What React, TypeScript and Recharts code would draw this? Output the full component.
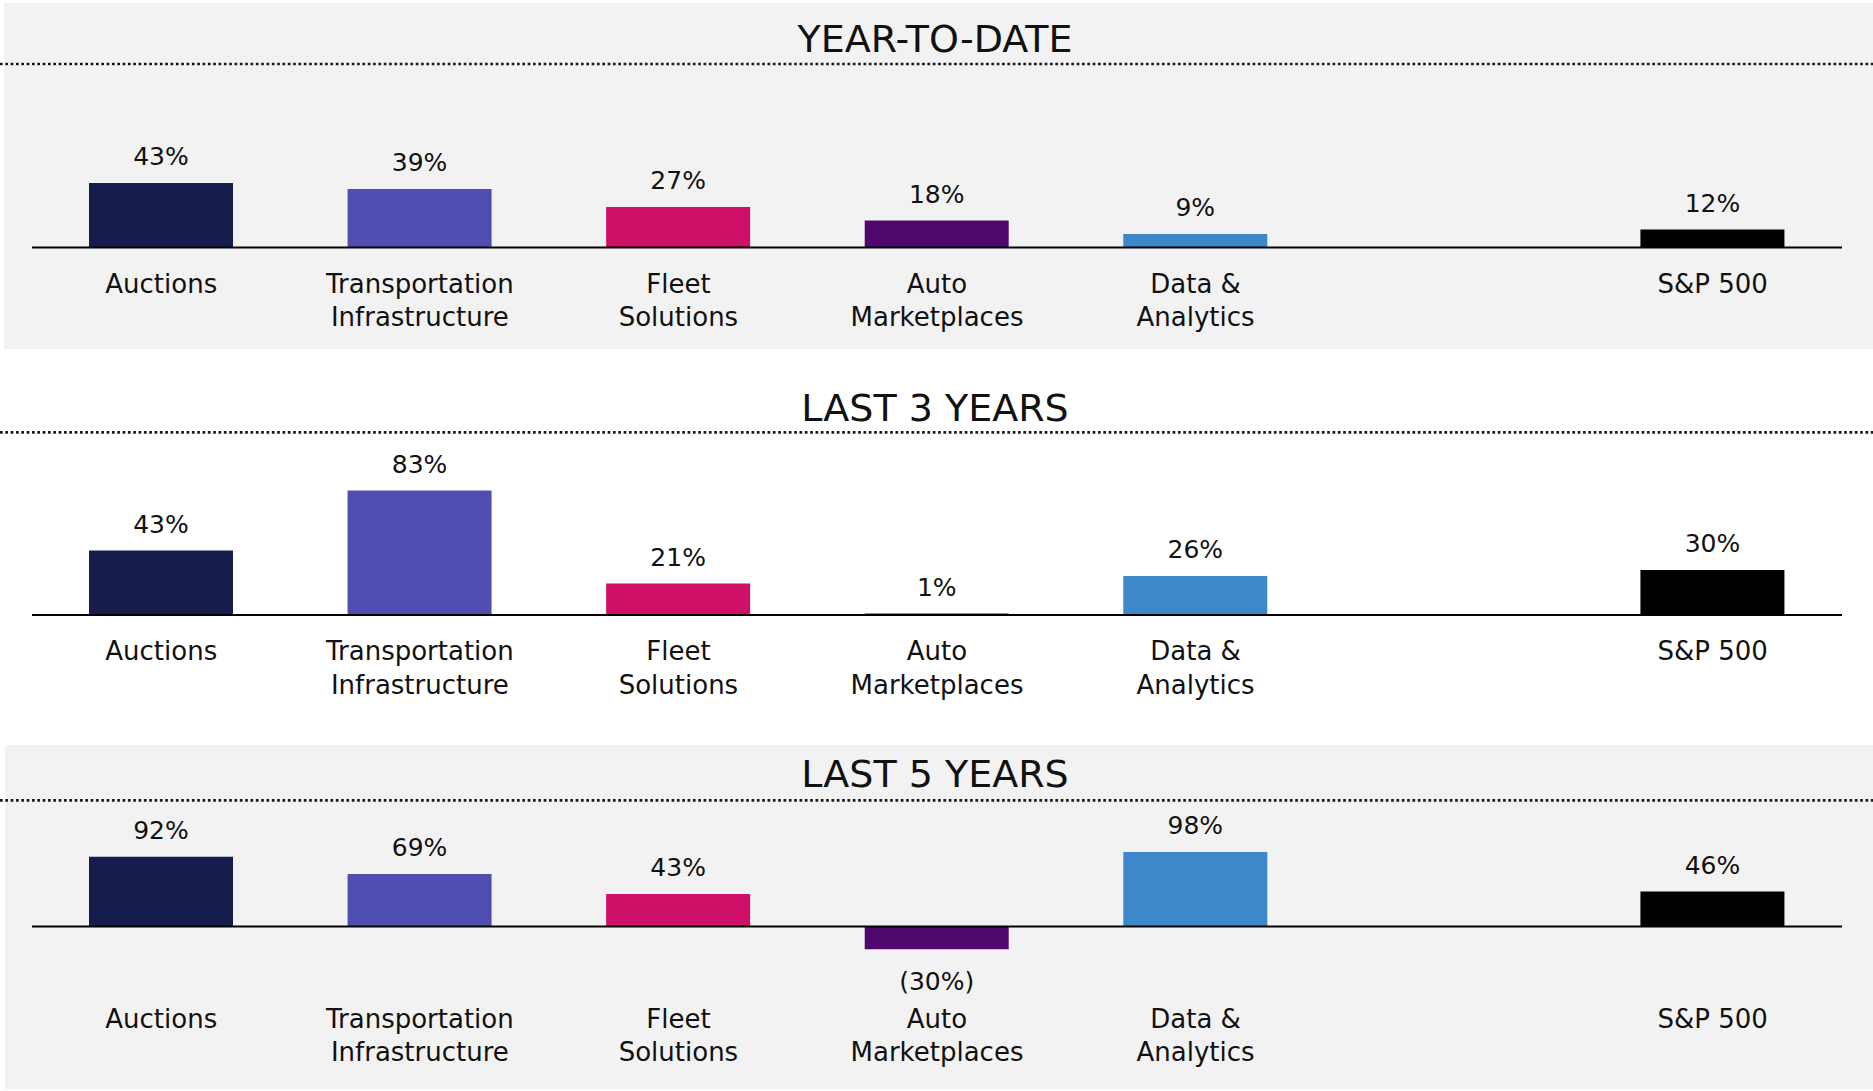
import React from "react";
import { Bar, BarChart, Cell, LabelList, ReferenceLine, XAxis, YAxis } from "recharts";

const categories = [
  "Auctions",
  "Transportation\nInfrastructure",
  "Fleet\nSolutions",
  "Auto\nMarketplaces",
  "Data &\nAnalytics",
  "",
  "S&P 500",
];
const barColors = ["#161c4b", "#4f4daf", "#ce1068", "#50086f", "#3d87cb", "#000000", "#000000"];

const ytd = [43, 39, 27, 18, 9, null, 12];
const last3Years = [43, 83, 21, 1, 26, null, 30];
const last5Years = [92, 69, 43, -30, 98, null, 46];

const FONT = "'DejaVu Sans', sans-serif";
const INK = "#111111";

const toRows = (values: (number | null)[]) =>
  categories.map((name, i) => ({ name, value: values[i] }));

function CategoryTick(props: any) {
  const { x, y, payload } = props;
  const lines = String(payload.value).split("\n");
  return (
    <g>
      {lines.map((line, i) => (
        <text
          key={i}
          x={x}
          y={y + 45 + i * 33.5}
          textAnchor="middle"
          fontSize={26}
          fontFamily={FONT}
          fill={INK}
        >
          {line}
        </text>
      ))}
    </g>
  );
}

function ValueLabel(props: any) {
  const { x, y, width, height, value } = props;
  if (value === null || value === undefined) return null;
  const cx = x + width / 2;
  const top = Math.min(y, y + height);
  const bottom = Math.max(y, y + height);
  const neg = value < 0;
  return (
    <text
      x={cx}
      y={neg ? bottom + 41 : top - 18}
      textAnchor="middle"
      fontSize={25}
      fontFamily={FONT}
      fill={INK}
    >
      {neg ? `(${Math.abs(value)}%)` : `${value}%`}
    </text>
  );
}

type PanelProps = {
  title: string;
  values: (number | null)[];
  top: number;
  height: number;
  shade: boolean;
  shadeLeft: number;
  shadeTop: number;
  shadeBottom: number;
  titleY: number;
  dotY: number;
  marginTop: number;
  axisHeight: number;
  domain: [number, number];
};

function Panel(p: PanelProps) {
  return (
    <div style={{ position: "absolute", left: 0, top: p.top, width: 1873, height: p.height }}>
      {p.shade && (
        <div
          style={{
            position: "absolute",
            left: p.shadeLeft,
            top: p.shadeTop,
            right: 0,
            bottom: p.shadeBottom,
            background: "#f2f2f2",
          }}
        />
      )}
      <svg width={1873} height={p.height} style={{ position: "absolute", left: 0, top: 0 }}>
        <text x={935} y={p.titleY} textAnchor="middle" fontSize={38} fontFamily={FONT} fill={INK}>
          {p.title}
        </text>
        <line
          x1={0}
          x2={1873}
          y1={p.dotY}
          y2={p.dotY}
          stroke="#1a1a1a"
          strokeWidth={2.7}
          strokeDasharray="2.7 2.63"
        />
      </svg>
      <div style={{ position: "absolute", left: 0, top: 0 }}>
        <BarChart
          width={1873}
          height={p.height}
          data={toRows(p.values)}
          margin={{ top: p.marginTop, right: 31, left: 32, bottom: 0 }}
        >
          <XAxis
            dataKey="name"
            axisLine={false}
            tickLine={false}
            tickSize={0}
            tickMargin={0}
            height={p.axisHeight}
            interval={0}
            tick={<CategoryTick />}
          />
          <YAxis hide domain={p.domain} />
          <Bar dataKey="value" barSize={144} isAnimationActive={false}>
            {barColors.map((c, i) => (
              <Cell key={i} fill={c} />
            ))}
            <LabelList dataKey="value" content={<ValueLabel />} />
          </Bar>
          <ReferenceLine y={0} stroke="#000000" strokeWidth={2} ifOverflow="extendDomain" />
        </BarChart>
      </div>
    </div>
  );
}

export default function App() {
  return (
    <div style={{ position: "relative", width: 1873, height: 1091, background: "#ffffff", overflow: "hidden" }}>
      <style>{"body{margin:0}"}</style>
      <Panel
        title="YEAR-TO-DATE"
        values={ytd}
        top={0}
        height={349}
        shade
        shadeLeft={4}
        shadeTop={3}
        shadeBottom={0}
        titleY={52.2}
        dotY={64}
        marginTop={97.5}
        axisHeight={101.5}
        domain={[0, 100]}
      />
      <Panel
        title="LAST 3 YEARS"
        values={last3Years}
        top={349}
        height={396}
        shade={false}
        shadeLeft={0}
        shadeTop={0}
        shadeBottom={0}
        titleY={71.5}
        dotY={83.3}
        marginTop={116}
        axisHeight={130}
        domain={[0, 100]}
      />
      <Panel
        title="LAST 5 YEARS"
        values={last5Years}
        top={745}
        height={346}
        shade
        shadeLeft={5}
        shadeTop={0}
        shadeBottom={2}
        titleY={42.2}
        dotY={55.3}
        marginTop={85.8}
        axisHeight={108.2}
        domain={[-74, 126]}
      />
    </div>
  );
}
